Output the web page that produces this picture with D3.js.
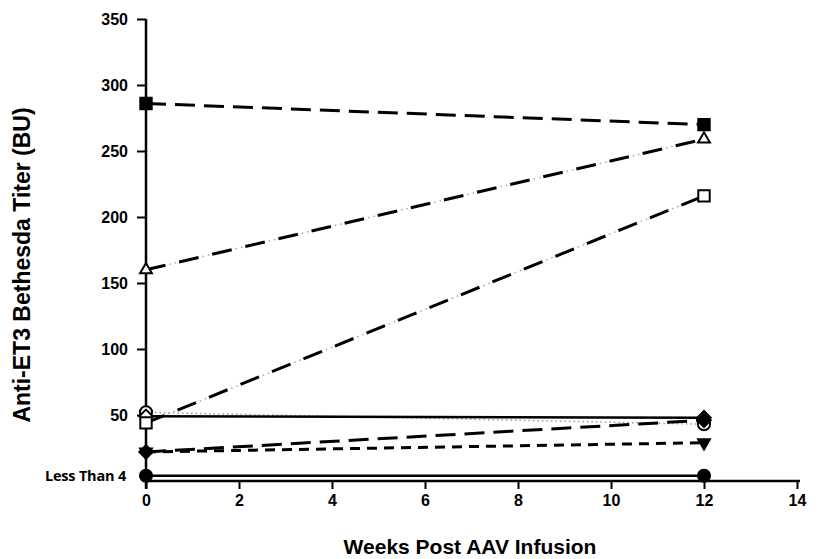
<!DOCTYPE html>
<html>
<head>
<meta charset="utf-8">
<script src="https://cdn.jsdelivr.net/npm/d3@7"></script>
<style>
  html, body { margin: 0; padding: 0; background: #fff; }
  svg { display: block; }
</style>
</head>
<body>
<div id="chart"></div>
<script>
// Bethesda titers at baseline and 12 weeks after AAV infusion
const weeks = [0, 12];
const titerFilledSquare   = [286, 270];
const titerOpenTriangle   = [160, 259];
const titerOpenSquare     = [44, 216];
const titerOpenDiamond    = [49, 48];
const titerOpenCircle     = [52, 43];
const titerFilledDiamond  = [22, 46];
const titerFilledTriangle = [22, 29];
const titerFilledCircle   = [4, 4];

const xTicks = [0, 2, 4, 6, 8, 10, 12, 14];
const yTicks = [50, 100, 150, 200, 250, 300, 350];
const floorValue = 4;
const floorLabel = 'Less Than 4';

const width = 819, height = 559;
const margin = { left: 146, right: 22, top: 19, bottom: 78 };

const x = d3.scaleLinear().domain([0, 14]).range([margin.left, width - margin.right]);
const y = d3.scaleLinear().domain([0, 350]).range([height - margin.bottom, margin.top]);

const svg = d3.select('#chart').append('svg')
    .attr('width', width)
    .attr('height', height);

// line style + marker for each subject
const series = [
    { values: titerOpenCircle,     marker: 'circle',   fill: '#fff', dash: 'dots' },
    { values: titerOpenDiamond,    marker: 'diamond',  fill: '#fff', dash: null },
    { values: titerFilledCircle,   marker: 'circle',   fill: '#000', dash: null },
    { values: titerFilledTriangle, marker: 'triDown',  fill: '#000', dash: '10,7' },
    { values: titerFilledDiamond,  marker: 'diamond',  fill: '#000', dash: '20,9' },
    { values: titerOpenSquare,     marker: 'square',   fill: '#fff', dash: 'dashdot' },
    { values: titerOpenTriangle,   marker: 'triangle', fill: '#fff', dash: 'dashdot' },
    { values: titerFilledSquare,   marker: 'square',   fill: '#000', dash: '20,9' }
];

const line = d3.line()
    .x((d, i) => x(weeks[i]))
    .y(d => y(d));

const lines = svg.append('g');
series.forEach(s => {
    if (s.dash === 'dots') {
        lines.append('path')
            .attr('d', line(s.values))
            .attr('fill', 'none')
            .attr('stroke', '#9a9a9a')
            .attr('stroke-width', 1.5)
            .attr('stroke-dasharray', '1.5,3');
    } else if (s.dash === 'dashdot') {
        lines.append('path')
            .attr('d', line(s.values))
            .attr('fill', 'none')
            .attr('stroke', '#000')
            .attr('stroke-width', 3)
            .attr('stroke-dasharray', '20,14');
        lines.append('path')
            .attr('d', line(s.values))
            .attr('fill', 'none')
            .attr('stroke', '#aaa')
            .attr('stroke-width', 1.5)
            .attr('stroke-dasharray', '0,24,1.5,4,1.5,3');
    } else {
        lines.append('path')
            .attr('d', line(s.values))
            .attr('fill', 'none')
            .attr('stroke', '#000')
            .attr('stroke-width', s.dash ? 3 : 2.5)
            .attr('stroke-dasharray', s.dash);
    }
});

// axes
const yAxis = d3.axisLeft(y).tickValues(yTicks).tickSize(9).tickPadding(9);
const xAxis = d3.axisBottom(x).tickValues(xTicks).tickSize(8).tickPadding(6);

const gy = svg.append('g')
    .attr('transform', `translate(${margin.left},0)`)
    .call(yAxis);
const gx = svg.append('g')
    .attr('transform', `translate(0,${y(0)})`)
    .call(xAxis);

[gx, gy].forEach(g => {
    g.select('.domain').attr('stroke', '#000').attr('stroke-width', 2.5);
    g.selectAll('.tick line').attr('stroke', '#000').attr('stroke-width', 2);
    g.selectAll('.tick text')
        .attr('fill', '#000')
        .style('font-family', 'Liberation Sans, Arial, sans-serif')
        .style('font-weight', 'bold')
        .style('font-size', '16px');
});
gy.select('.domain').attr('d', `M0,${y(350)}V${y(0) + 8}`);
gx.select('.domain').attr('d', `M${x(0)},0H${x(14) + 3}`);

svg.append('text')
    .attr('x', margin.left - 20)
    .attr('y', y(floorValue))
    .attr('dy', '0.35em')
    .attr('text-anchor', 'end')
    .style('font-family', 'Open Sans, sans-serif')
    .style('font-weight', 'bold')
    .style('font-size', '14.5px')
    .style('letter-spacing', '-0.2px')
    .text(floorLabel);

// markers
const symbolType = {
    circle: d3.symbolCircle,
    square: d3.symbolSquare,
    diamond: d3.symbolDiamond2,
    triangle: d3.symbolTriangle2,
    triDown: d3.symbolTriangle2
};
const symbolSize = { circle: 115, square: 130, diamond: 115, triangle: 100, triDown: 100 };

const marks = svg.append('g');
series.forEach(s => {
    marks.selectAll(null)
        .data(s.values)
        .enter()
        .append('path')
        .attr('d', d3.symbol().type(symbolType[s.marker]).size(symbolSize[s.marker]))
        .attr('transform', (d, i) => `translate(${x(weeks[i])},${y(d)})` + (s.marker === 'triDown' ? ' rotate(180)' : ''))
        .attr('fill', s.fill)
        .attr('stroke', '#000')
        .attr('stroke-width', 2);
});

// axis titles
svg.append('text')
    .attr('transform', `translate(30,265) rotate(-90)`)
    .attr('text-anchor', 'middle')
    .style('font-family', 'Liberation Sans, Arial, sans-serif')
    .style('font-weight', 'bold')
    .style('font-size', '23px')
    .text('Anti-ET3 Bethesda Titer (BU)');

svg.append('text')
    .attr('x', 470)
    .attr('y', 554)
    .attr('text-anchor', 'middle')
    .style('font-family', 'Liberation Sans, Arial, sans-serif')
    .style('font-weight', 'bold')
    .style('font-size', '21px')
    .text('Weeks Post AAV Infusion');
</script>
</body>
</html>
